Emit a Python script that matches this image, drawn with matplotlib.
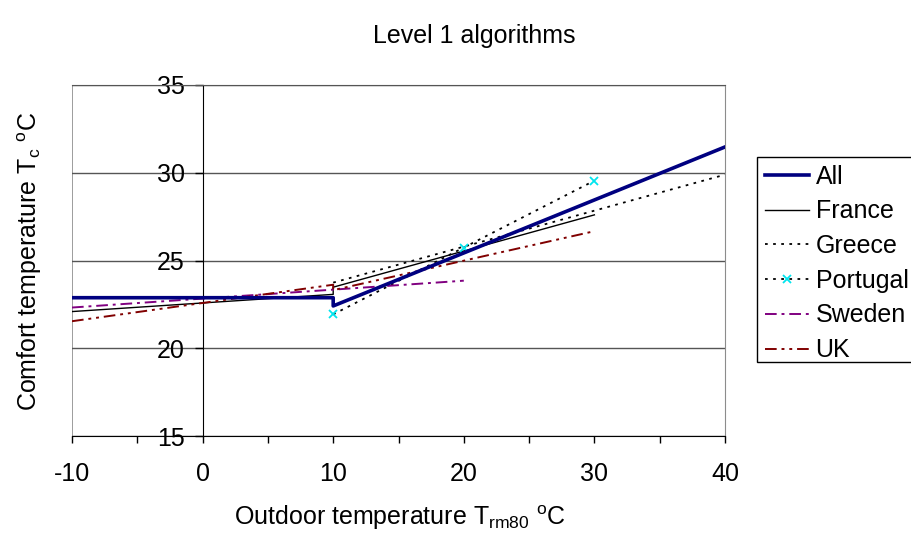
import numpy as np
import matplotlib.pyplot as plt
from matplotlib.patches import Rectangle
from matplotlib.ticker import MultipleLocator

plt.rcParams['font.family'] = ['Liberation Sans', 'DejaVu Sans']
plt.rcParams['axes.unicode_minus'] = False

# Level 1 comfort algorithms: outdoor running mean (x) vs comfort temperature (y)
all_x = [-10, 10, 10, 40]
all_y = [22.88, 22.88, 22.41, 31.47]
france_x = [-10, 10, 10, 30]
france_y = [22.09, 23.07, 23.48, 27.60]
greece_x = [10, 40]
greece_y = [23.74, 29.89]
portugal_x = [10, 20, 30]
portugal_y = [21.93, 25.74, 29.55]
sweden_x = [-10, 20]
sweden_y = [22.32, 23.85]
uk_x = [-10, 10, 10, 30]
uk_y = [21.54, 23.62, 23.31, 26.67]

fig = plt.figure(figsize=(9.12, 5.36), dpi=100)
ax = fig.add_axes([72 / 912, 1 - 436 / 536, 653 / 912, 351 / 536])

ax.plot(all_x, all_y, color='#000080', lw=2.6, label='All', zorder=5)
ax.plot(france_x, france_y, color='black', lw=1.0, label='France', zorder=4)
ax.plot(greece_x, greece_y, color='black', lw=1.3, linestyle=(0, (1.5, 3)),
        label='Greece', zorder=4)
ax.plot(portugal_x, portugal_y, color='black', lw=1.3, linestyle=(0, (1.5, 3)),
        marker='x', markersize=6, markeredgewidth=1.3, markeredgecolor='#00e5ee',
        label='Portugal', zorder=4)
ax.plot(sweden_x, sweden_y, color='#800080', lw=1.4,
        linestyle=(0, (6, 2.5, 1.5, 2.5)), label='Sweden', zorder=4)
ax.plot(uk_x, uk_y, color='#800000', lw=1.4,
        linestyle=(0, (6, 2.5, 1.5, 2.5, 1.5, 2.5)), label='UK', zorder=4)

ax.set_xlim(-10, 40)
ax.set_ylim(15, 35)
ax.xaxis.set_major_locator(MultipleLocator(10))
ax.xaxis.set_minor_locator(MultipleLocator(5))
ax.yaxis.set_major_locator(MultipleLocator(5))

# y axis crosses at x = 0, plot area frame drawn in grey
ax.spines['left'].set_position(('data', 0))
ax.spines['left'].set_color('black')
ax.spines['bottom'].set_color('black')
ax.spines['right'].set_color('#8c8c8c')
ax.spines['top'].set_color('#555555')
ax.axvline(-10, color='#8c8c8c', lw=1.2, zorder=0)
ax.yaxis.grid(True, color='#555555', lw=1.0)
ax.set_axisbelow(True)

ax.tick_params(axis='x', which='both', direction='out', length=5, width=1,
               pad=14, labelsize=18)
ax.tick_params(axis='y', which='both', direction='out', length=6, width=1,
               pad=7, labelsize=18)

fig.text(474 / 912, 1 - 36 / 536, 'Level 1 algorithms', ha='center', va='center',
         fontsize=18)
fig.text(400 / 912, 1 - 518 / 536,
         r'Outdoor temperature T$_\mathregular{rm80}$ $^\mathregular{o}$C',
         ha='center', va='center', fontsize=18)
fig.text(30 / 912, 1 - 261 / 536,
         r'Comfort temperature T$_\mathregular{c}$ $^\mathregular{o}$C',
         ha='center', va='center', rotation=90, fontsize=18)

# legend box runs off the right edge of the figure
fig.add_artist(Rectangle((757 / 912, 1 - 362 / 536), 0.3, 205 / 536,
                         transform=fig.transFigure, facecolor='white',
                         edgecolor='black', lw=1.0, zorder=1))
leg = fig.legend(loc='upper left', bbox_to_anchor=(757 / 912, 1 - 157 / 536),
                 fontsize=18, frameon=False,
                 handlelength=1.76, handletextpad=0.28, labelspacing=0.43,
                 borderpad=0.3, borderaxespad=0, numpoints=1)
leg.set_zorder(2)

fig.savefig('out.png', dpi=100)
